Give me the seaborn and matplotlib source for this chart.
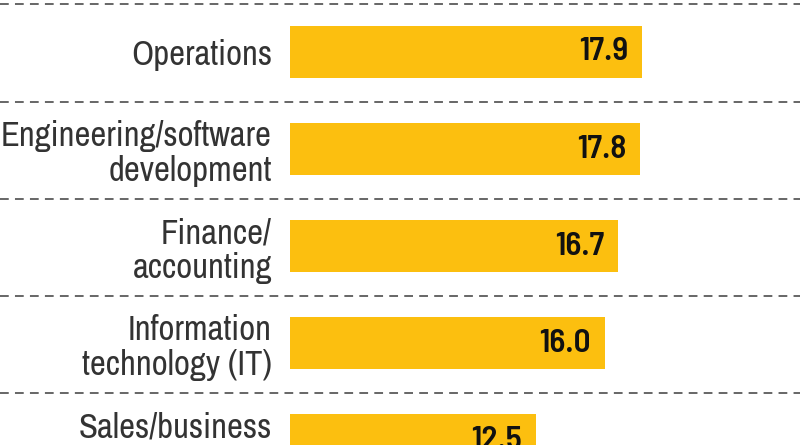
import matplotlib
matplotlib.use("Agg")
import matplotlib.pyplot as plt
import seaborn as sns
import pandas as pd

categories = ["Operations", "Engineering/software\ndevelopment", "Finance/\naccounting",
              "Information\ntechnology (IT)", "Sales/business\ndevelopment"]
values = [17.9, 17.8, 16.7, 16.0, 12.5]
value_labels = ["17.9", "17.8", "16.7", "16.0", "12.5"]

sns.set_theme(style="white")
plt.rcParams['font.family'] = ['Archivo Narrow', 'Barlow Semi Condensed', 'DejaVu Sans']

df = pd.DataFrame({"cat": categories, "val": values})

W, H = 800, 445
fig = plt.figure(figsize=(8, 4.45), dpi=100)
left_px = 290
ax = fig.add_axes([left_px / W, 0, (W - left_px) / W, 1])

pitch = 97.0
sns.barplot(data=df, y="cat", x="val", orient="h", color="#FCBF0F",
            width=52 / pitch, saturation=1, ax=ax, edgecolor="none")

px_per_unit = (642 - left_px) / 17.9
ax.set_xlim(0, (W - left_px) / px_per_unit)
ax.set_ylim((H - 52) / pitch, -52 / pitch)

for s in ax.spines.values():
    s.set_visible(False)
ax.set_xticks([])
ax.set_xlabel("")
ax.set_ylabel("")
ax.tick_params(axis="y", length=0, pad=13, labelsize=25, labelcolor="#333333")
for t in ax.get_yticklabels():
    t.set_horizontalalignment("right")
    t.set_multialignment("right")
    t.set_linespacing(1.1)

# dashed separators spanning full width
for i in range(len(categories)):
    ax.axhline(i - 0.5 + 1.0 / pitch, xmin=-left_px / (W - left_px), xmax=1,
               color="#666666", lw=1.4, ls=(0, (4.5, 3.2)), clip_on=False)

for i, (v, lab) in enumerate(zip(values, value_labels)):
    ax.annotate(lab, xy=(v, i), xytext=(-10, 0), textcoords="offset points",
                ha="right", va="center", fontsize=24, fontweight=600,
                family="Barlow Semi Condensed", color="#111111")

fig.savefig("out.png", dpi=100)
